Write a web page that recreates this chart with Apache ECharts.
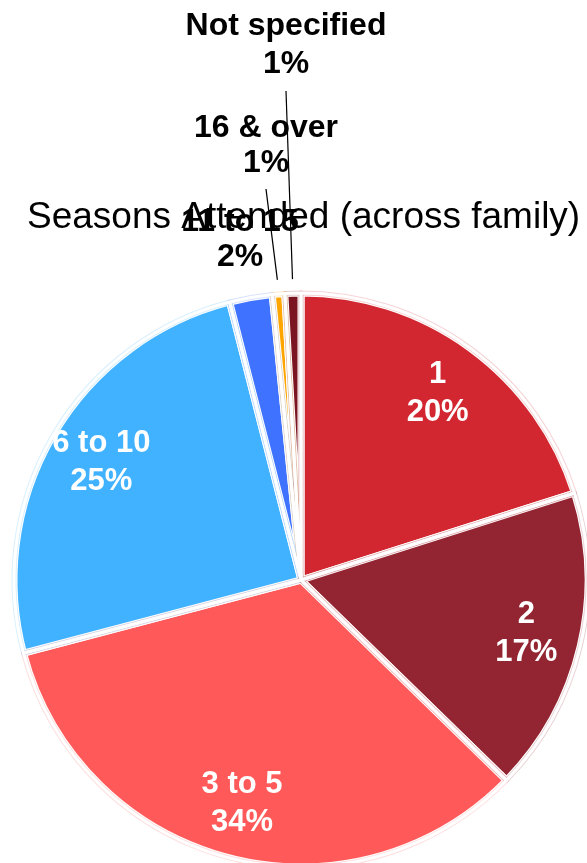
<!DOCTYPE html>
<html><head><meta charset="utf-8">
<script src="https://cdn.jsdelivr.net/npm/echarts@6/dist/echarts.min.js"></script>
<style>html,body{margin:0;padding:0;background:#fff}#c{width:587px;height:863px}</style>
</head><body><div id="c"></div>
<script>
const categories = ['1', '2', '3 to 5', '6 to 10', '11 to 15', '16 & over', 'Not specified'];
const shares = [20.1, 17.2, 33.6, 25.1, 2.4, 0.7, 0.9];
const colors = ['#D22730', '#922531', '#FF5959', '#41B2FF', '#3F72FF', '#FFA500', '#7A1521'];
const tints = ['rgba(210,39,48,0.2)', 'rgba(146,37,49,0.2)', 'rgba(255,89,89,0.2)', 'rgba(65,178,255,0.2)',
               'rgba(63,114,255,0.2)', 'rgba(255,165,0,0.2)', 'rgba(122,21,33,0.2)'];
const outsideLabelCenters = {4: [240, 240], 5: [266, 146], 6: [286, 45]};
const outsideLineHeights = {4: 35, 5: 35, 6: 38};
const outsideWithLine = {5: true, 6: true};

const FONT = '"Liberation Sans", Arial, Helvetica, sans-serif';
const total = shares.reduce((a, b) => a + b, 0);
const pct = v => Math.round(v / total * 100) + '%';

const chart = echarts.init(document.getElementById('c'), null, {renderer: 'canvas'});

const CENTER = [301, 580];
const R = 287;

const base = {
  type: 'pie', silent: true, center: CENTER, radius: [0, R],
  startAngle: 90, clockwise: true, avoidLabelOverlap: false,
  label: {show: false}, labelLine: {show: false}
};

const fillData = categories.map((name, i) => ({name, value: shares[i], itemStyle: {color: colors[i]}}));
const tintData = categories.map((name, i) => ({name, value: shares[i], itemStyle: {borderColor: tints[i]}}));
const plainData = categories.map((name, i) => ({name, value: shares[i]}));

const labelData = categories.map((name, i) => {
  const outside = outsideLabelCenters[i] !== undefined;
  return {
    name, value: shares[i],
    label: outside ? {
      position: 'outside', color: '#000', fontSize: 32, lineHeight: outsideLineHeights[i],
      padding: outsideWithLine[i] ? [0, 0, 16, 0] : 0
    } : {
      position: 'inside', color: '#fff', fontSize: 31, lineHeight: 38
    },
    labelLine: {show: !!outsideWithLine[i]}
  };
});

chart.setOption({
  backgroundColor: '#fff',
  animation: false,
  title: {
    text: 'Seasons Attended (across family)',
    left: 22, top: 194,
    textStyle: {fontFamily: FONT, fontWeight: 'normal', fontSize: 37, color: '#000'}
  },
  series: [
    Object.assign({}, base, {
      itemStyle: {borderColor: '#fff', borderWidth: 7},
      data: fillData
    }),
    Object.assign({}, base, {
      itemStyle: {color: 'rgba(0,0,0,0)', borderWidth: 5},
      data: tintData
    }),
    Object.assign({}, base, {
      itemStyle: {color: 'rgba(0,0,0,0)', borderColor: '#fff', borderWidth: 3},
      data: plainData
    }),
    {
      type: 'pie', silent: true, center: CENTER, radius: [156, R + 14],
      startAngle: 90, clockwise: true, avoidLabelOverlap: false,
      itemStyle: {color: 'rgba(0,0,0,0)', borderWidth: 0},
      label: {
        show: true, fontFamily: FONT, fontWeight: 'bold',
        formatter: p => p.name + '\n' + pct(p.value)
      },
      labelLine: {show: true, length: 10, length2: 0, lineStyle: {color: '#000', width: 1.2}},
      labelLayout: function (params) {
        const c = outsideLabelCenters[params.dataIndex];
        if (!c) return {};
        return {x: c[0], y: c[1], align: 'center', verticalAlign: 'middle'};
      },
      data: labelData
    }
  ]
});
</script>
</body></html>
